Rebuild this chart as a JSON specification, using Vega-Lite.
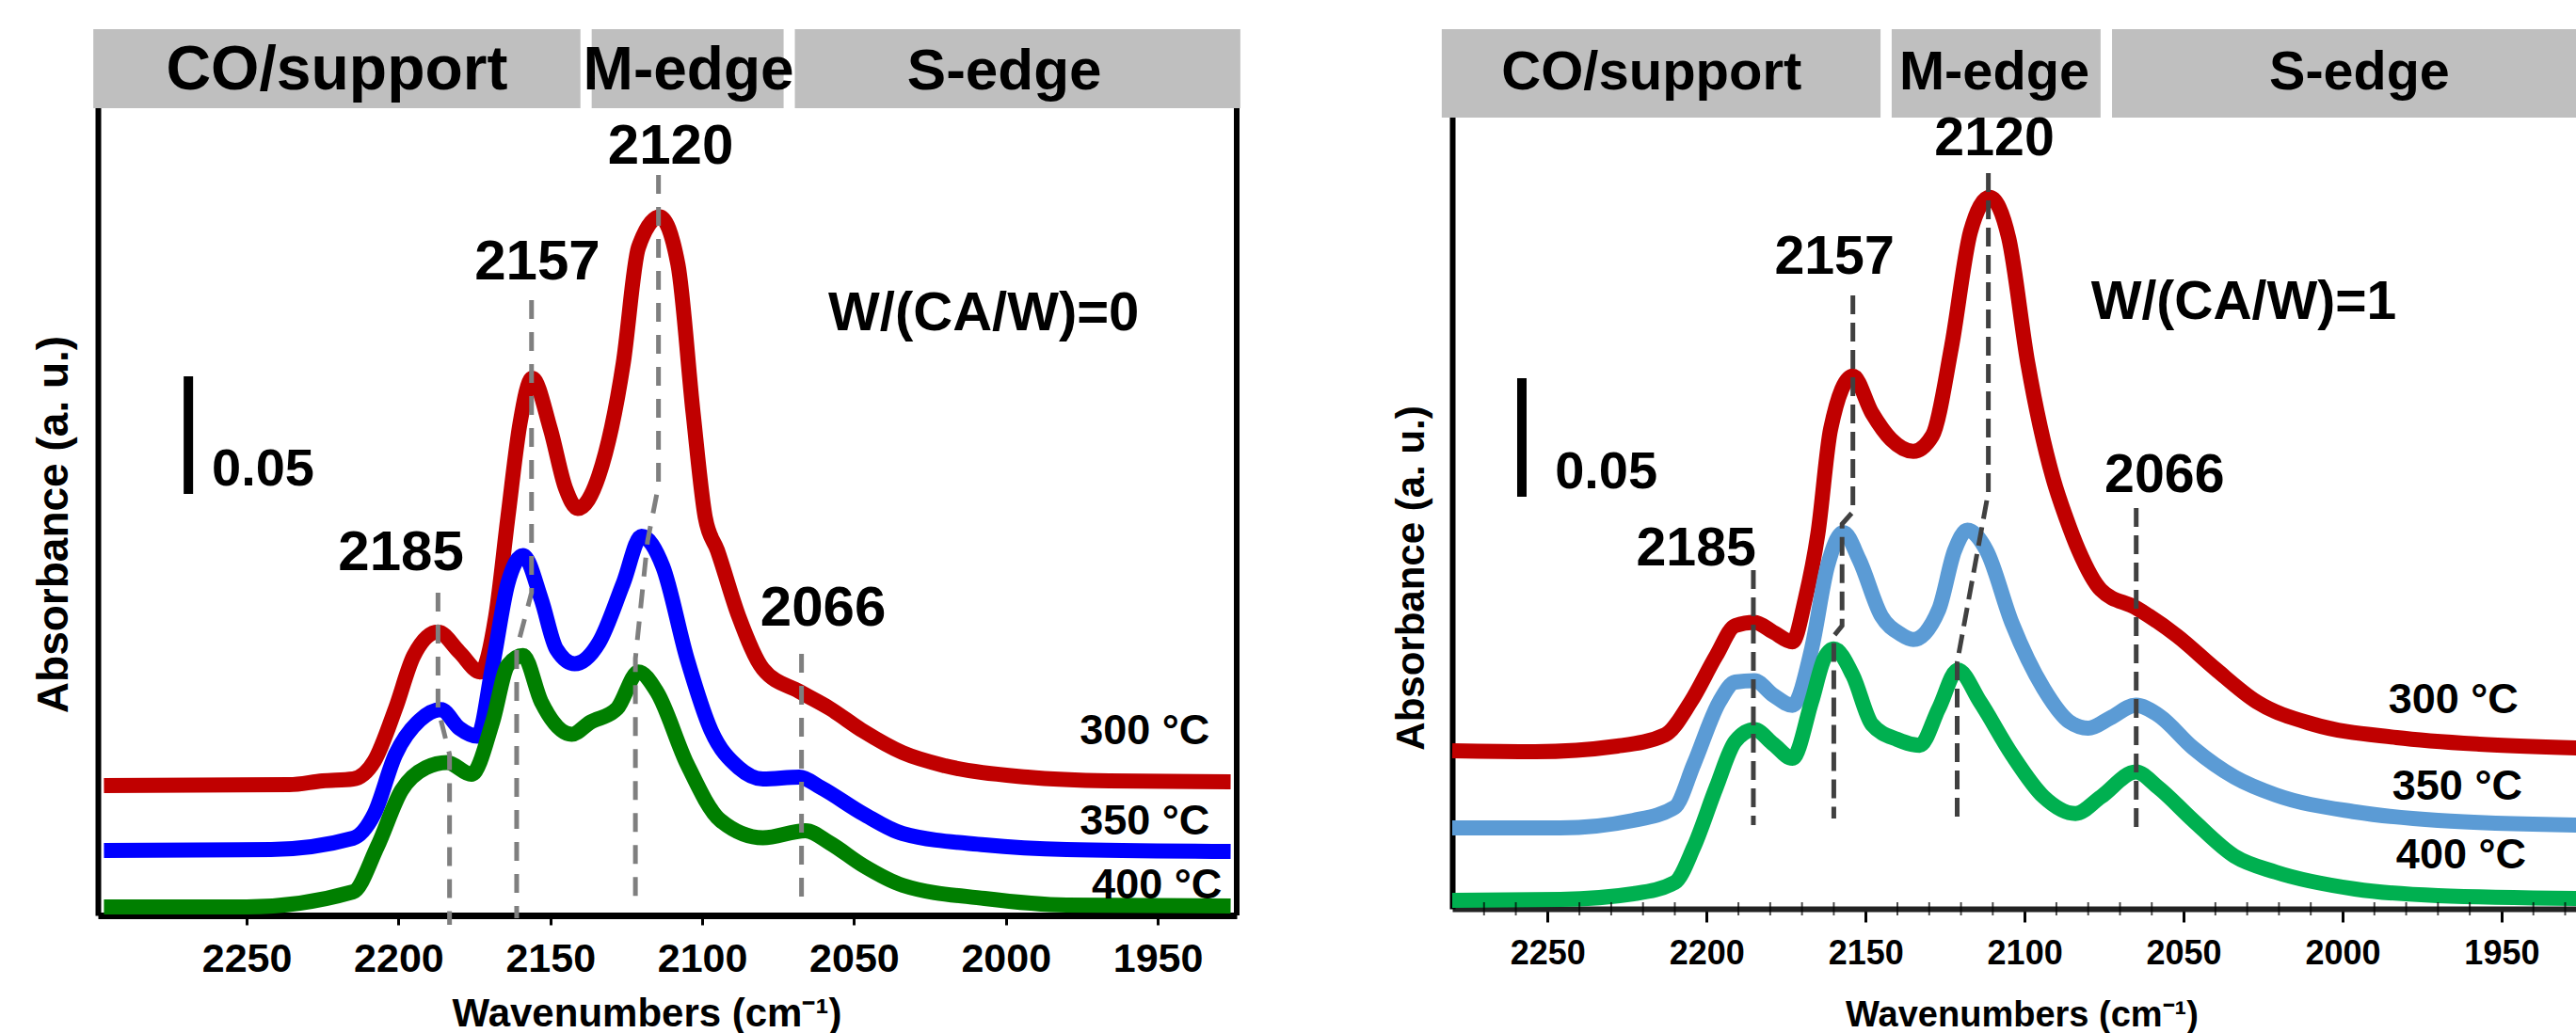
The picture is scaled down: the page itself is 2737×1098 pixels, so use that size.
{
  "$schema": "https://vega.github.io/schema/vega-lite/v6.json",
  "background": "white",
  "autosize": {"type": "pad"},
  "padding": {"left": 34, "top": 31, "right": 0, "bottom": 0},
  "bounds": "flush",
  "spacing": 229,
  "config": {
    "view": {"stroke": null},
    "axis": {"labelFont": "Liberation Sans", "titleFont": "Liberation Sans", "labelColor": "#000", "titleColor": "#000", "grid": false},
    "text": {"font": "Liberation Sans", "fontWeight": "bold", "color": "#000"}
  },
  "resolve": {"scale": {"x": "independent", "y": "independent", "color": "independent", "size": "independent"}},
  "hconcat": [
    {
      "width": 1210,
      "height": 942,
      "layer": [
        {
          "data": {"values": [
            {"s":"300 °C","wn":2297,"a":0.0552},{"s":"300 °C","wn":2236,"a":0.0556},{"s":"300 °C","wn":2225,"a":0.0572},{"s":"300 °C","wn":2215,"a":0.058},{"s":"300 °C","wn":2208,"a":0.0656},{"s":"300 °C","wn":2201,"a":0.088},{"s":"300 °C","wn":2195,"a":0.1104},{"s":"300 °C","wn":2187,"a":0.1205},{"s":"300 °C","wn":2180,"a":0.112},{"s":"300 °C","wn":2173,"a":0.1035},{"s":"300 °C","wn":2168,"a":0.1272},{"s":"300 °C","wn":2164,"a":0.1692},{"s":"300 °C","wn":2160,"a":0.2092},{"s":"300 °C","wn":2156,"a":0.2284},{"s":"300 °C","wn":2150,"a":0.2068},{"s":"300 °C","wn":2145,"a":0.1816},{"s":"300 °C","wn":2141,"a":0.173},{"s":"300 °C","wn":2134,"a":0.1872},{"s":"300 °C","wn":2126,"a":0.2348},{"s":"300 °C","wn":2121,"a":0.284},{"s":"300 °C","wn":2114,"a":0.297},{"s":"300 °C","wn":2108,"a":0.2768},{"s":"300 °C","wn":2103,"a":0.2136},{"s":"300 °C","wn":2099,"a":0.1692},{"s":"300 °C","wn":2095,"a":0.1552},{"s":"300 °C","wn":2088,"a":0.1272},{"s":"300 °C","wn":2080,"a":0.1048},{"s":"300 °C","wn":2068,"a":0.0952},{"s":"300 °C","wn":2058,"a":0.088},{"s":"300 °C","wn":2047,"a":0.0784},{"s":"300 °C","wn":2034,"a":0.0692},{"s":"300 °C","wn":2020,"a":0.0636},{"s":"300 °C","wn":1993,"a":0.0588},{"s":"300 °C","wn":1966,"a":0.0572},{"s":"300 °C","wn":1926,"a":0.0568},
            {"s":"350 °C","wn":2297,"a":0.0276},{"s":"350 °C","wn":2242,"a":0.028},{"s":"350 °C","wn":2215,"a":0.0328},{"s":"350 °C","wn":2208,"a":0.0432},{"s":"350 °C","wn":2201,"a":0.0684},{"s":"350 °C","wn":2193,"a":0.083},{"s":"350 °C","wn":2186,"a":0.0875},{"s":"350 °C","wn":2180,"a":0.0796},{"s":"350 °C","wn":2174,"a":0.0762},{"s":"350 °C","wn":2169,"a":0.1064},{"s":"350 °C","wn":2164,"a":0.1412},{"s":"350 °C","wn":2159,"a":0.153},{"s":"350 °C","wn":2153,"a":0.1344},{"s":"350 °C","wn":2148,"a":0.1132},{"s":"350 °C","wn":2142,"a":0.107},{"s":"350 °C","wn":2134,"a":0.116},{"s":"350 °C","wn":2126,"a":0.1412},{"s":"350 °C","wn":2120,"a":0.1612},{"s":"350 °C","wn":2113,"a":0.1484},{"s":"350 °C","wn":2105,"a":0.1092},{"s":"350 °C","wn":2097,"a":0.0784},{"s":"350 °C","wn":2088,"a":0.0628},{"s":"350 °C","wn":2080,"a":0.058},{"s":"350 °C","wn":2068,"a":0.0588},{"s":"350 °C","wn":2061,"a":0.0544},{"s":"350 °C","wn":2047,"a":0.0432},{"s":"350 °C","wn":2034,"a":0.0348},{"s":"350 °C","wn":2007,"a":0.03},{"s":"350 °C","wn":1980,"a":0.028},{"s":"350 °C","wn":1926,"a":0.0272},
            {"s":"400 °C","wn":2297,"a":0.0036},{"s":"400 °C","wn":2250,"a":0.0036},{"s":"400 °C","wn":2215,"a":0.01},{"s":"400 °C","wn":2207,"a":0.0292},{"s":"400 °C","wn":2199,"a":0.0532},{"s":"400 °C","wn":2191,"a":0.0628},{"s":"400 °C","wn":2184,"a":0.065},{"s":"400 °C","wn":2176,"a":0.06},{"s":"400 °C","wn":2169,"a":0.0824},{"s":"400 °C","wn":2164,"a":0.1064},{"s":"400 °C","wn":2159,"a":0.1105},{"s":"400 °C","wn":2153,"a":0.0908},{"s":"400 °C","wn":2143,"a":0.077},{"s":"400 °C","wn":2137,"a":0.082},{"s":"400 °C","wn":2128,"a":0.088},{"s":"400 °C","wn":2121,"a":0.1035},{"s":"400 °C","wn":2115,"a":0.0952},{"s":"400 °C","wn":2105,"a":0.0644},{"s":"400 °C","wn":2094,"a":0.0404},{"s":"400 °C","wn":2080,"a":0.033},{"s":"400 °C","wn":2066,"a":0.036},{"s":"400 °C","wn":2058,"a":0.0308},{"s":"400 °C","wn":2047,"a":0.0212},{"s":"400 °C","wn":2034,"a":0.0128},{"s":"400 °C","wn":2007,"a":0.0072},{"s":"400 °C","wn":1980,"a":0.0044},{"s":"400 °C","wn":1926,"a":0.004}
          ]},
          "mark": {"type": "line", "strokeWidth": 16, "interpolate": "monotone", "strokeCap": "butt"},
          "encoding": {
            "x": {"field": "wn", "type": "quantitative",
              "scale": {"domain": [1924, 2299], "reverse": true, "nice": false, "zero": false},
              "axis": {"orient": "bottom", "values": [2250, 2200, 2150, 2100, 2050, 2000, 1950], "format": "d",
                "domainColor": "#000", "domainWidth": 7, "tickColor": "#000", "tickWidth": 3, "tickSize": 10,
                "labelFontSize": 43, "labelFontWeight": "bold", "labelPadding": 15, "labelFlush": false,
                "title": "Wavenumbers (cm⁻¹)", "titleFontSize": 42, "titleFontWeight": "bold",
                "titleX": 583, "titleY": 117, "titleAlign": "center", "titleBaseline": "alphabetic"}},
            "y": {"field": "a", "type": "quantitative",
              "scale": {"domain": [0, 0.3768], "nice": false, "zero": false},
              "axis": {"orient": "left", "domainColor": "#000", "domainWidth": 6, "ticks": false, "labels": false,
                "title": "Absorbance (a. u.)", "titleFontSize": 46, "titleFontWeight": "bold", "titleAngle": -90,
                "titleX": -47, "titleY": 526, "titleAlign": "center", "titleBaseline": "middle"}},
            "color": {"field": "s", "type": "nominal", "scale": {"domain": ["300 °C", "350 °C", "400 °C"], "range": ["#c00000", "#0000ff", "#007f00"]}, "legend": null}
          }
        },
        {
          "data": {"values": [
            {"id":"2120","k":0,"wn":2114.4,"a":0.3148},{"id":"2120","k":1,"wn":2114.4,"a":0.1828},{"id":"2120","k":2,"wn":2118,"a":0.1592},{"id":"2120","k":3,"wn":2122,"a":0.1092},{"id":"2120","k":4,"wn":2122,"a":0.0048},
            {"id":"2157","k":0,"wn":2156.2,"a":0.2616},{"id":"2157","k":1,"wn":2156.2,"a":0.1372},{"id":"2157","k":2,"wn":2161.1,"a":0.1132},{"id":"2157","k":3,"wn":2161.1,"a":-0.0012},
            {"id":"2185","k":0,"wn":2187,"a":0.1372},{"id":"2185","k":1,"wn":2187,"a":0.088},{"id":"2185","k":2,"wn":2183.2,"a":0.0684},{"id":"2185","k":3,"wn":2183.2,"a":-0.004},
            {"id":"2066","k":0,"wn":2067.3,"a":0.1112},{"id":"2066","k":1,"wn":2067.3,"a":0.0048}
          ]},
          "mark": {"type": "line", "strokeWidth": 5, "strokeDash": [20, 14], "color": "#7f7f7f"},
          "encoding": {
            "x": {"field": "wn", "type": "quantitative"},
            "y": {"field": "a", "type": "quantitative"},
            "detail": {"field": "id"},
            "order": {"field": "k", "type": "quantitative"}
          }
        },
        {
          "data": {"values": [
            {"wn":2300.5,"wn2":2140.1,"a":0.3432,"a2":0.3768},
            {"wn":2136.4,"wn2":2073.2,"a":0.3432,"a2":0.3768},
            {"wn":2069.5,"wn2":1922.8,"a":0.3432,"a2":0.3768}
          ]},
          "mark": {"type": "rect", "color": "#bfbfbf"},
          "encoding": {
            "x": {"field": "wn", "type": "quantitative"},
            "x2": {"field": "wn2"},
            "y": {"field": "a", "type": "quantitative"},
            "y2": {"field": "a2"}
          }
        },
        {
          "data": {"values": [{"wn":1924,"a":0,"a2":0.3432}]},
          "mark": {"type": "rule", "strokeWidth": 6, "color": "#000"},
          "encoding": {
            "x": {"field": "wn", "type": "quantitative"},
            "y": {"field": "a", "type": "quantitative"},
            "y2": {"field": "a2"}
          }
        },
        {
          "data": {"values": [{"wn":2269.2,"a":0.1792,"a2":0.2292}]},
          "mark": {"type": "rule", "strokeWidth": 10, "color": "#000"},
          "encoding": {
            "x": {"field": "wn", "type": "quantitative"},
            "y": {"field": "a", "type": "quantitative"},
            "y2": {"field": "a2"}
          }
        },
        {
          "data": {"values": [
            {"t":"CO/support","r":"hA","wn":2220.3,"a":0.3512},
            {"t":"M-edge","r":"hB","wn":2104.5,"a":0.3512},
            {"t":"S-edge","r":"hC","wn":2000.5,"a":0.3512},
            {"t":"2120","r":"pk","wn":2110.4,"a":0.3196},
            {"t":"2157","r":"pk","wn":2154.3,"a":0.2704},
            {"t":"2185","r":"pk","wn":2199.2,"a":0.1468},
            {"t":"2066","r":"pk","wn":2060.2,"a":0.1232},
            {"t":"W/(CA/W)=0","r":"cd","wn":2007.3,"a":0.2488}
          ]},
          "mark": {"type": "text", "align": "center", "baseline": "alphabetic"},
          "encoding": {
            "x": {"field": "wn", "type": "quantitative"},
            "y": {"field": "a", "type": "quantitative"},
            "text": {"field": "t"},
            "size": {"field": "r", "type": "ordinal", "scale": {"domain": ["hA","hB","hC","pk","cd"], "range": [66, 58, 65, 46, 74]}, "legend": null}
          }
        },
        {
          "data": {"values": [{"t":"0.05","wn":2261.5,"a":0.1828}]},
          "mark": {"type": "text", "align": "left", "baseline": "alphabetic", "fontSize": 56},
          "encoding": {
            "x": {"field": "wn", "type": "quantitative"},
            "y": {"field": "a", "type": "quantitative"},
            "text": {"field": "t"}
          }
        },
        {
          "data": {"values": [
            {"t":"300 °C","wn":1932.9,"a":0.0728},
            {"t":"350 °C","wn":1932.9,"a":0.0344},
            {"t":"400 °C","wn":1928.9,"a":0.0072}
          ]},
          "mark": {"type": "text", "align": "right", "baseline": "alphabetic", "fontSize": 45},
          "encoding": {
            "x": {"field": "wn", "type": "quantitative"},
            "y": {"field": "a", "type": "quantitative"},
            "text": {"field": "t"}
          }
        }
      ]
    },
    {
      "width": 1196,
      "height": 935,
      "layer": [
        {
          "data": {"values": [
            {"s":"300 °C","wn":2280,"a":0.0672},{"s":"300 °C","wn":2254,"a":0.0668},{"s":"300 °C","wn":2228,"a":0.0692},{"s":"300 °C","wn":2213,"a":0.074},{"s":"300 °C","wn":2205,"a":0.088},{"s":"300 °C","wn":2197,"a":0.1076},{"s":"300 °C","wn":2191,"a":0.1204},{"s":"300 °C","wn":2185,"a":0.1218},{"s":"300 °C","wn":2179,"a":0.1176},{"s":"300 °C","wn":2173,"a":0.1135},{"s":"300 °C","wn":2169,"a":0.1316},{"s":"300 °C","wn":2165,"a":0.1596},{"s":"300 °C","wn":2161,"a":0.204},{"s":"300 °C","wn":2154,"a":0.2265},{"s":"300 °C","wn":2148,"a":0.2108},{"s":"300 °C","wn":2142,"a":0.1996},{"s":"300 °C","wn":2135,"a":0.1945},{"s":"300 °C","wn":2129,"a":0.2012},{"s":"300 °C","wn":2123,"a":0.2388},{"s":"300 °C","wn":2117,"a":0.288},{"s":"300 °C","wn":2111,"a":0.3025},{"s":"300 °C","wn":2105,"a":0.2852},{"s":"300 °C","wn":2099,"a":0.232},{"s":"300 °C","wn":2091,"a":0.1828},{"s":"300 °C","wn":2087,"a":0.1664},{"s":"300 °C","wn":2083,"a":0.1524},{"s":"300 °C","wn":2076,"a":0.1356},{"s":"300 °C","wn":2065,"a":0.128},{"s":"300 °C","wn":2052,"a":0.116},{"s":"300 °C","wn":2040,"a":0.102},{"s":"300 °C","wn":2027,"a":0.088},{"s":"300 °C","wn":2009,"a":0.0784},{"s":"300 °C","wn":1983,"a":0.0728},{"s":"300 °C","wn":1957,"a":0.07},{"s":"300 °C","wn":1926,"a":0.0684},
            {"s":"350 °C","wn":2280,"a":0.0344},{"s":"350 °C","wn":2246,"a":0.0344},{"s":"350 °C","wn":2223,"a":0.0376},{"s":"350 °C","wn":2210,"a":0.0432},{"s":"350 °C","wn":2204,"a":0.0616},{"s":"350 °C","wn":2196,"a":0.088},{"s":"350 °C","wn":2191,"a":0.0964},{"s":"350 °C","wn":2185,"a":0.097},{"s":"350 °C","wn":2179,"a":0.0908},{"s":"350 °C","wn":2173,"a":0.0865},{"s":"350 °C","wn":2167,"a":0.1104},{"s":"350 °C","wn":2162,"a":0.1456},{"s":"350 °C","wn":2157,"a":0.16},{"s":"350 °C","wn":2152,"a":0.1484},{"s":"350 °C","wn":2145,"a":0.1244},{"s":"350 °C","wn":2139,"a":0.1168},{"s":"350 °C","wn":2135,"a":0.1145},{"s":"350 °C","wn":2127,"a":0.1272},{"s":"350 °C","wn":2122,"a":0.1524},{"s":"350 °C","wn":2118,"a":0.161},{"s":"350 °C","wn":2112,"a":0.1524},{"s":"350 °C","wn":2104,"a":0.1216},{"s":"350 °C","wn":2094,"a":0.0936},{"s":"350 °C","wn":2086,"a":0.0796},{"s":"350 °C","wn":2080,"a":0.0768},{"s":"350 °C","wn":2073,"a":0.0812},{"s":"350 °C","wn":2065,"a":0.0866},{"s":"350 °C","wn":2058,"a":0.0824},{"s":"350 °C","wn":2047,"a":0.0684},{"s":"350 °C","wn":2034,"a":0.056},{"s":"350 °C","wn":2021,"a":0.0484},{"s":"350 °C","wn":1996,"a":0.0412},{"s":"350 °C","wn":1970,"a":0.0376},{"s":"350 °C","wn":1926,"a":0.0356},
            {"s":"400 °C","wn":2280,"a":0.0036},{"s":"400 °C","wn":2246,"a":0.004},{"s":"400 °C","wn":2223,"a":0.0064},{"s":"400 °C","wn":2210,"a":0.0112},{"s":"400 °C","wn":2204,"a":0.0264},{"s":"400 °C","wn":2197,"a":0.0516},{"s":"400 °C","wn":2191,"a":0.0712},{"s":"400 °C","wn":2185,"a":0.0762},{"s":"400 °C","wn":2179,"a":0.07},{"s":"400 °C","wn":2173,"a":0.064},{"s":"400 °C","wn":2167,"a":0.088},{"s":"400 °C","wn":2163,"a":0.1064},{"s":"400 °C","wn":2160,"a":0.1105},{"s":"400 °C","wn":2154,"a":0.0992},{"s":"400 °C","wn":2148,"a":0.0784},{"s":"400 °C","wn":2140,"a":0.072},{"s":"400 °C","wn":2133,"a":0.0695},{"s":"400 °C","wn":2127,"a":0.0852},{"s":"400 °C","wn":2121,"a":0.1015},{"s":"400 °C","wn":2114,"a":0.088},{"s":"400 °C","wn":2104,"a":0.0656},{"s":"400 °C","wn":2094,"a":0.0476},{"s":"400 °C","wn":2084,"a":0.0405},{"s":"400 °C","wn":2076,"a":0.0476},{"s":"400 °C","wn":2065,"a":0.0582},{"s":"400 °C","wn":2058,"a":0.0516},{"s":"400 °C","wn":2047,"a":0.0376},{"s":"400 °C","wn":2034,"a":0.0224},{"s":"400 °C","wn":2021,"a":0.0156},{"s":"400 °C","wn":1996,"a":0.0084},{"s":"400 °C","wn":1970,"a":0.0056},{"s":"400 °C","wn":1926,"a":0.0044}
          ]},
          "mark": {"type": "line", "strokeWidth": 16, "interpolate": "monotone", "strokeCap": "butt"},
          "encoding": {
            "x": {"field": "wn", "type": "quantitative",
              "scale": {"domain": [1926, 2280], "reverse": true, "nice": false, "zero": false},
              "axis": {"orient": "bottom", "values": [2250, 2200, 2150, 2100, 2050, 2000, 1950], "format": "d",
                "domainColor": "#222", "domainWidth": 6, "tickColor": "#000", "tickWidth": 3, "tickSize": 14,
                "labelFontSize": 36, "labelFontWeight": "bold", "labelPadding": 16, "labelFlush": false,
                "title": "Wavenumbers (cm⁻¹)", "titleFontSize": 38, "titleFontWeight": "bold",
                "titleX": 605, "titleY": 124, "titleAlign": "center", "titleBaseline": "alphabetic"}},
            "y": {"field": "a", "type": "quantitative",
              "scale": {"domain": [0, 0.374], "nice": false, "zero": false},
              "axis": {"orient": "left", "domainColor": "#000", "domainWidth": 6, "ticks": false, "labels": false,
                "title": "Absorbance (a. u.)", "titleFontSize": 42, "titleFontWeight": "bold", "titleAngle": -90,
                "titleX": -44, "titleY": 583, "titleAlign": "center", "titleBaseline": "middle"}},
            "color": {"field": "s", "type": "nominal", "scale": {"domain": ["300 °C", "350 °C", "400 °C"], "range": ["#c00000", "#5b9bd5", "#00b050"]}, "legend": null}
          }
        },
        {
          "data": {"values": [
            {"id":"2120","k":0,"wn":2111.4,"a":0.3128},{"id":"2120","k":1,"wn":2111.4,"a":0.1772},{"id":"2120","k":2,"wn":2121.2,"a":0.1048},{"id":"2120","k":3,"wn":2121.2,"a":0.0392},
            {"id":"2157","k":0,"wn":2154,"a":0.2608},{"id":"2157","k":1,"wn":2154,"a":0.1688},{"id":"2157","k":2,"wn":2157.4,"a":0.1636},{"id":"2157","k":3,"wn":2157.4,"a":0.1204},{"id":"2157","k":4,"wn":2160,"a":0.116},{"id":"2157","k":5,"wn":2160,"a":0.0384},
            {"id":"2185","k":0,"wn":2185.3,"a":0.144},{"id":"2185","k":1,"wn":2185.3,"a":0.0356},
            {"id":"2066","k":0,"wn":2064.9,"a":0.1704},{"id":"2066","k":1,"wn":2064.9,"a":0.0316}
          ]},
          "mark": {"type": "line", "strokeWidth": 5, "strokeDash": [20, 9], "color": "#404040"},
          "encoding": {
            "x": {"field": "wn", "type": "quantitative"},
            "y": {"field": "a", "type": "quantitative"},
            "detail": {"field": "id"},
            "order": {"field": "k", "type": "quantitative"}
          }
        },
        {
          "data": {"values": [
            {"wn":2270},{"wn":2260},{"wn":2240},{"wn":2230},{"wn":2220},{"wn":2210},{"wn":2190},{"wn":2180},{"wn":2170},{"wn":2160},{"wn":2140},{"wn":2130},{"wn":2120},{"wn":2110},{"wn":2090},{"wn":2080},{"wn":2070},{"wn":2060},{"wn":2040},{"wn":2030},{"wn":2020},{"wn":2010},{"wn":1990},{"wn":1980},{"wn":1970},{"wn":1960},{"wn":1940},{"wn":1930}
          ]},
          "mark": {"type": "tick", "orient": "vertical", "color": "#000", "thickness": 2, "size": 14},
          "encoding": {
            "x": {"field": "wn", "type": "quantitative"},
            "y": {"datum": 0, "type": "quantitative"}
          }
        },
        {
          "data": {"values": [
            {"wn":2283.3,"wn2":2145.3,"a":0.3364,"a2":0.374},
            {"wn":2141.8,"wn2":2076.1,"a":0.3364,"a2":0.374},
            {"wn":2072.5,"wn2":1925.5,"a":0.3364,"a2":0.374}
          ]},
          "mark": {"type": "rect", "color": "#bfbfbf"},
          "encoding": {
            "x": {"field": "wn", "type": "quantitative"},
            "x2": {"field": "wn2"},
            "y": {"field": "a", "type": "quantitative"},
            "y2": {"field": "a2"}
          }
        },
        {
          "data": {"values": [{"wn":2258.1,"a":0.1752,"a2":0.2256}]},
          "mark": {"type": "rule", "strokeWidth": 10, "color": "#000"},
          "encoding": {
            "x": {"field": "wn", "type": "quantitative"},
            "y": {"field": "a", "type": "quantitative"},
            "y2": {"field": "a2"}
          }
        },
        {
          "data": {"values": [
            {"t":"CO/support","r":"hA","wn":2217.3,"a":0.3484},
            {"t":"M-edge","r":"hB","wn":2109.5,"a":0.3484},
            {"t":"S-edge","r":"hC","wn":1994.7,"a":0.3484},
            {"t":"2120","r":"pk","wn":2109.5,"a":0.3204},
            {"t":"2157","r":"pk","wn":2159.8,"a":0.27},
            {"t":"2185","r":"pk","wn":2203.3,"a":0.146},
            {"t":"2066","r":"pk","wn":2056,"a":0.1772},
            {"t":"W/(CA/W)=1","r":"cd","wn":2031.1,"a":0.2508}
          ]},
          "mark": {"type": "text", "align": "center", "baseline": "alphabetic"},
          "encoding": {
            "x": {"field": "wn", "type": "quantitative"},
            "y": {"field": "a", "type": "quantitative"},
            "text": {"field": "t"},
            "size": {"field": "r", "type": "ordinal", "scale": {"domain": ["hA","hB","hC","pk","cd"], "range": [58, 57, 57, 46, 74]}, "legend": null}
          }
        },
        {
          "data": {"values": [{"t":"0.05","wn":2247.7,"a":0.1788}]},
          "mark": {"type": "text", "align": "left", "baseline": "alphabetic", "fontSize": 56},
          "encoding": {
            "x": {"field": "wn", "type": "quantitative"},
            "y": {"field": "a", "type": "quantitative"},
            "text": {"field": "t"}
          }
        },
        {
          "data": {"values": [
            {"t":"300 °C","wn":1944.7,"a":0.0832},
            {"t":"350 °C","wn":1943.5,"a":0.0464},
            {"t":"400 °C","wn":1942.3,"a":0.0172}
          ]},
          "mark": {"type": "text", "align": "right", "baseline": "alphabetic", "fontSize": 45},
          "encoding": {
            "x": {"field": "wn", "type": "quantitative"},
            "y": {"field": "a", "type": "quantitative"},
            "text": {"field": "t"}
          }
        }
      ]
    }
  ]
}
